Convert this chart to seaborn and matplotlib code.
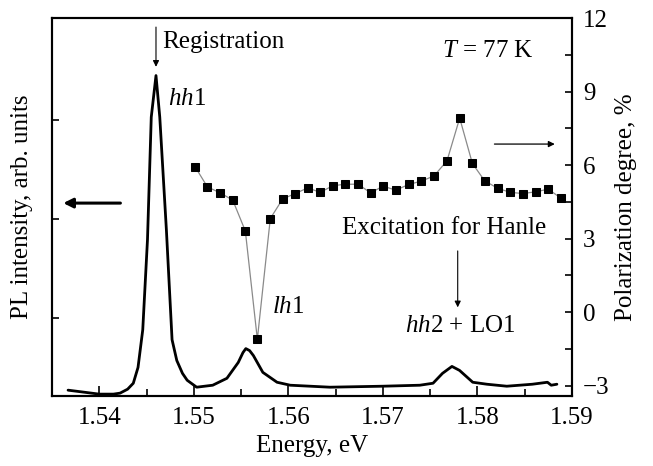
import numpy as np
import matplotlib
matplotlib.use("Agg")
import matplotlib.pyplot as plt
import seaborn as sns

# PL spectrum, arb. units
pl_energy = [1.5367, 1.5400, 1.5415, 1.5422, 1.5430, 1.5436, 1.5441, 1.5446, 1.5451, 1.5455,
             1.5460, 1.5464, 1.5471, 1.5477, 1.5482, 1.5488, 1.5493, 1.5503, 1.5520, 1.5535,
             1.5547, 1.5552, 1.5555, 1.5559, 1.5563, 1.5573, 1.5588, 1.5602, 1.5644, 1.5700, 1.5739,
             1.5753, 1.5763, 1.5773, 1.5781, 1.5795, 1.5810, 1.5831, 1.5858, 1.5874,
             1.5878, 1.5884]
pl_intensity = [0.27, 0.23, 0.23, 0.24, 0.28, 0.34, 0.50, 0.88, 1.79, 3.03,
                3.45, 3.03, 1.89, 0.78, 0.57, 0.44, 0.37, 0.30, 0.32, 0.39,
                0.55, 0.65, 0.69, 0.67, 0.62, 0.45, 0.35, 0.32, 0.30, 0.31, 0.32,
                0.34, 0.44, 0.51, 0.47, 0.35, 0.33, 0.31, 0.33, 0.35,
                0.32, 0.33]

# polarization degree, %
pol_energy = [1.55014, 1.55144, 1.55278, 1.55412, 1.55545, 1.55672, 1.55809, 1.55940,
              1.56073, 1.56204, 1.56337, 1.56471, 1.56603, 1.56738, 1.56869, 1.57002,
              1.57136, 1.57273, 1.57408, 1.57541, 1.57678, 1.57812, 1.57946, 1.58076,
              1.58216, 1.58346, 1.58480, 1.58615, 1.58749, 1.58886]
pol_degree = [5.93, 5.11, 4.87, 4.57, 3.31, -1.11, 3.82, 4.62,
              4.84, 5.07, 4.89, 5.16, 5.22, 5.22, 4.87, 5.14,
              4.98, 5.21, 5.35, 5.56, 6.18, 7.92, 6.07, 5.36,
              5.05, 4.89, 4.84, 4.91, 5.02, 4.64]

x_ticks = [1.54, 1.55, 1.56, 1.57, 1.58, 1.59]
pol_ticks = [-3, 0, 3, 6, 9, 12]

sns.set_style("ticks")
plt.rcParams['font.family'] = ['Liberation Serif', 'DejaVu Serif']
plt.rcParams['font.size'] = 18
plt.rcParams['mathtext.fontset'] = 'custom'
plt.rcParams['mathtext.rm'] = 'Liberation Serif'
plt.rcParams['mathtext.it'] = 'Liberation Serif:italic'
plt.rcParams['axes.linewidth'] = 1.5
plt.rcParams['axes.edgecolor'] = 'black'
plt.rcParams['axes.labelcolor'] = 'black'
plt.rcParams['text.color'] = 'black'
plt.rcParams['xtick.color'] = 'black'
plt.rcParams['ytick.color'] = 'black'

fig = plt.figure(figsize=(6.53, 4.66), dpi=100)
ax = fig.add_axes([0.0796, 0.150, 0.876 - 0.0796, 0.961 - 0.150])
ax2 = ax.twinx()

# PL curve on left axis
sns.lineplot(x=pl_energy, y=pl_intensity, ax=ax, color='black', lw=2.0)
ax.set_xlim(1.535, 1.59)
ax.set_ylim(0.21, 4.03)
ax.set_xticks(x_ticks)
ax.set_xticklabels([f"{t:.2f}" for t in x_ticks])
ax.set_xticks(np.arange(1.545, 1.59, 0.01), minor=True)
ax.set_yticks([1, 2, 3])
ax.set_yticklabels([])
ax.tick_params(axis='x', which='major', direction='in', length=7, width=1.2, pad=8, labelsize=18)
ax.tick_params(axis='x', which='minor', direction='in', length=5, width=1.2)
ax.tick_params(axis='y', which='major', direction='in', length=5, width=1.2)
ax.set_xlabel("Energy, eV", fontsize=18, labelpad=4)
ax.set_ylabel("PL intensity, arb. units", fontsize=18, labelpad=10)

# polarization on right axis
sns.lineplot(x=pol_energy, y=pol_degree, ax=ax2, color='#8a8a8a', lw=0.9,
             marker='s', markersize=5.2, markerfacecolor='black', markeredgecolor='black')
ax2.set_ylim(-3.43, 12)
ax2.set_yticks(pol_ticks)
ax2.set_yticklabels([str(t).replace('-', '\u2212') for t in pol_ticks])
ax2.set_yticks(np.arange(-1.5, 12, 3), minor=True)
ax2.tick_params(axis='y', which='major', direction='in', length=5, width=1.2, pad=8, labelsize=18)
ax2.tick_params(axis='y', which='minor', direction='in', length=5, width=1.2)
ax2.set_ylabel("Polarization degree, %", fontsize=18, labelpad=4)

# annotations (right-axis data coords)
ax2.annotate("", xy=(1.5460, 9.9), xytext=(1.5460, 11.75),
             arrowprops=dict(arrowstyle='-|>', color='black', lw=0.8, mutation_scale=9))
ax2.text(1.54665, 10.78, "Registration", ha='left', va='baseline', fontsize=18)
ax2.text(1.54729, 8.45, r"$\it{hh}$1", ha='left', va='baseline', fontsize=18)
ax2.text(1.55827, -0.04, r"$\it{lh}$1", ha='left', va='baseline', fontsize=18)
ax2.text(1.57622, 10.41, r"$\it{T}$ = 77 K", ha='left', va='baseline', fontsize=18)
ax2.text(1.57643, 3.18, "Excitation for Hanle", ha='center', va='baseline', fontsize=18)
ax2.annotate("", xy=(1.57791, 0.08), xytext=(1.57791, 2.61),
             arrowprops=dict(arrowstyle='-|>', color='black', lw=0.8, mutation_scale=9))
ax2.text(1.57231, -0.82, r"$\it{hh}$2 + LO1", ha='left', va='baseline', fontsize=18)
ax2.annotate("", xy=(1.58847, 6.86), xytext=(1.5815, 6.86),
             arrowprops=dict(arrowstyle='-|>', color='black', lw=0.9, mutation_scale=9))
ax2.annotate("", xy=(1.5359, 4.45), xytext=(1.54253, 4.45),
             arrowprops=dict(arrowstyle='-|>', color='black', lw=2.2, mutation_scale=14))

fig.savefig("out.png", dpi=100)
